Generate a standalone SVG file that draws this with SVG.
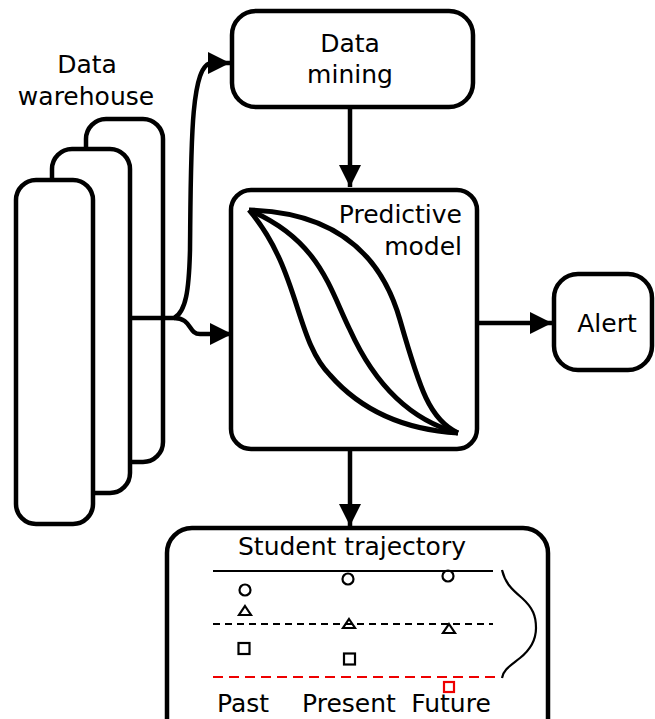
<svg xmlns="http://www.w3.org/2000/svg" width="655" height="719" viewBox="0 0 655 719">
<defs>
<marker id="ah" viewBox="0 0 10 10" refX="10" refY="5" markerWidth="5" markerHeight="5" orient="auto" markerUnits="strokeWidth"><path d="M0,0 L10,5 L0,10 z" fill="#000"/></marker>
</defs>
<style>
.box{fill:#fff;stroke:#000;stroke-width:4.5}
.t{font-family:"DejaVu Sans",sans-serif;font-size:25px;fill:#000}
.c{fill:none;stroke:#000;stroke-width:4.5}
.s{fill:none;stroke:#000;stroke-width:2.2}
</style>
<rect width="655" height="719" fill="#fff"/>
<g id="warehouse">
<text class="t" x="87" y="73" text-anchor="middle">Data</text>
<text class="t" x="86" y="105" text-anchor="middle">warehouse</text>
<rect class="box" x="86" y="119" width="77" height="343" rx="20"/>
<rect class="box" x="52" y="149" width="78" height="344" rx="20"/>
<rect class="box" x="16" y="180" width="77" height="344" rx="20"/>
</g>
<g id="datamining">
<rect class="box" x="232" y="11" width="241" height="96" rx="24"/>
<text class="t" x="350" y="52" text-anchor="middle">Data</text>
<text class="t" x="350" y="83" text-anchor="middle">mining</text>
</g>
<g id="model">
<rect class="box" x="231" y="190" width="246" height="259" rx="20"/>
<text class="t" x="462" y="223" text-anchor="end">Predictive</text>
<text class="t" x="462" y="255" text-anchor="end">model</text>
<g fill="none" stroke="#000" stroke-width="5" stroke-linejoin="round">
<path d="M249,210 C330,212 380,250 400,320 C420,390 430,420 458,433"/>
<path d="M249,210 C320,240 330,290 350,330 C375,385 410,420 458,433"/>
<path d="M249,210 C300,270 295,340 330,375 C365,415 410,430 458,433"/>
</g>
</g>
<g id="alert">
<rect class="box" x="554" y="274" width="98" height="96" rx="24"/>
<text class="t" x="607" y="332" text-anchor="middle">Alert</text>
</g>
<g id="trajectory">
<rect class="box" x="167" y="528" width="381" height="220" rx="25"/>
<text class="t" x="352" y="555" text-anchor="middle">Student trajectory</text>
<line class="s" x1="213" y1="571" x2="493" y2="571"/>
<line class="s" x1="213" y1="624" x2="493" y2="624" stroke-dasharray="7,5"/>
<line x1="213" y1="677" x2="500" y2="677" stroke="#e00" stroke-width="2.2" stroke-dasharray="10,6"/>
<path class="s" d="M502,570 C505,582 510,588 522,598 C533,608 536,616 536,628 C536,640 530,650 520,658 C510,666 503,670 502,678" stroke-width="1.6"/>
<circle class="s" cx="245" cy="590" r="5.5"/>
<circle class="s" cx="348" cy="579" r="5.5"/>
<circle class="s" cx="448" cy="576" r="5.5"/>
<path class="s" d="M245,606 L251,615 L239,615 Z" stroke-linejoin="miter"/>
<path class="s" d="M349,619 L355,628 L343,628 Z"/>
<path class="s" d="M449,624 L455,633 L443,633 Z"/>
<rect class="s" x="238.5" y="643" width="11" height="11"/>
<rect class="s" x="344" y="653.5" width="11" height="11"/>
<rect x="444" y="682" width="10" height="10" fill="none" stroke="#e00" stroke-width="2.2"/>
<text class="t" x="243" y="712" text-anchor="middle">Past</text>
<text class="t" x="349" y="712" text-anchor="middle">Present</text>
<text class="t" x="451" y="712" text-anchor="middle">Future</text>
</g>
<g id="connectors">
<path class="c" d="M130,318 L174,318 C186,312 189,290 190,250 C191,150 190,63 212,63 L230,63" marker-end="url(#ah)"/>
<path class="c" d="M174,318 C192,318 188,334 200,334 L232,334" marker-end="url(#ah)"/>
<path class="c" d="M350,107 L350,187" marker-end="url(#ah)"/>
<path class="c" d="M477,323 L552,323" marker-end="url(#ah)"/>
<path class="c" d="M350,449 L350,526" marker-end="url(#ah)"/>
</g>
</svg>
